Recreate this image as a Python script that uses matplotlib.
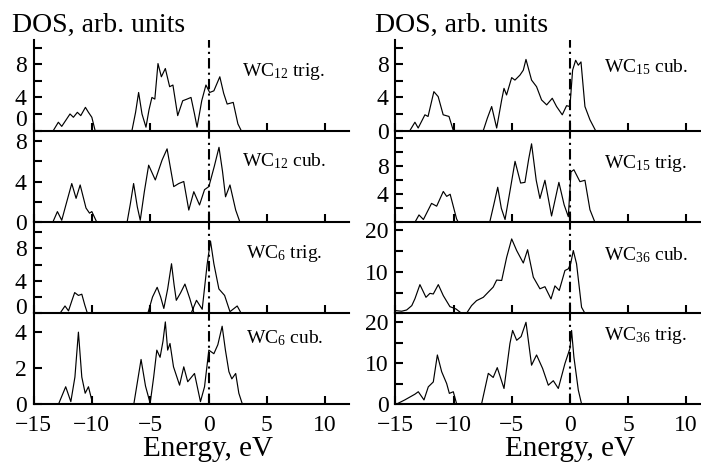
import matplotlib
matplotlib.use('Agg')
import matplotlib.pyplot as plt

plt.rcParams['font.family'] = ['Liberation Serif', 'DejaVu Serif']
plt.rcParams['mathtext.fontset'] = 'custom'
plt.rcParams['mathtext.rm'] = 'Liberation Serif'
plt.rcParams['mathtext.it'] = 'Liberation Serif:italic'
plt.rcParams['mathtext.bf'] = 'Liberation Serif:bold'

# ---------------- data (energy in eV, DOS in arb. units) ----------------
wc12_trig_e = [-13.3, -12.87, -12.58, -12.2, -11.87, -11.58, -11.24, -10.95, -10.55, -10.29, -10.0, -9.72,
               -6.56, -6.25, -5.99, -5.7, -5.36, -5.1, -4.85, -4.6, -4.33, -4.04, -3.7, -3.33, -3.05, -2.64,
               -2.21, -1.84, -1.5, -1.2, -0.98, -0.58, -0.22, 0.1, 0.46, 0.97, 1.3, 1.6, 2.12, 2.52, 2.8]
wc12_trig_dos = [0, 1.0, 0.5, 1.3, 2.0, 1.6, 2.2, 1.8, 2.8, 2.2, 1.6, 0,
                 0, 2.2, 4.6, 2.0, 0.4, 2.5, 4.0, 3.8, 8.1, 6.5, 7.5, 5.3, 5.5, 1.8,
                 3.6, 3.8, 4.0, 2.0, 0.4, 3.6, 5.5, 4.6, 4.8, 6.5, 4.5, 3.2, 3.4, 0.8, 0]

wc12_cub_e = [-13.35, -12.95, -12.58, -12.2, -11.72, -11.35, -11.0, -10.5, -10.2, -10.0, -9.57,
              -6.98, -6.7, -6.42, -6.1, -5.85, -5.5, -5.13, -4.56, -3.98, -3.55, -2.98, -2.55, -2.12,
              -1.69, -1.26, -0.77, -0.34, 0.03, 0.5, 0.9, 1.2, 1.46, 1.84, 2.33, 2.7]
wc12_cub_dos = [0, 1.05, 0.2, 1.8, 3.8, 2.35, 3.66, 1.4, 0.9, 1.05, 0,
                0, 1.8, 3.8, 1.5, 0.2, 3.0, 5.6, 4.15, 6.1, 7.2, 3.5, 3.8, 4.0,
                1.2, 3.0, 1.7, 3.2, 3.5, 5.5, 7.35, 5.0, 2.5, 3.66, 1.2, 0]

wc6_trig_e = [-12.73, -12.3, -12.0, -11.7, -11.47, -11.15, -10.86, -10.6, -10.38,
              -5.2, -4.8, -4.4, -4.1, -3.83, -3.5, -3.17, -2.95, -2.76, -2.4, -2.02, -1.6, -1.24,
              -1.49, -1.03, -0.54, -0.11, 0.17, 0.46, 0.89, 1.38, 1.84, 2.46, 2.8]
wc6_trig_dos = [0, 0.9, 0.3, 1.6, 2.55, 2.2, 2.35, 1.0, 0,
                0, 2.0, 3.2, 2.0, 0.6, 3.0, 6.1, 3.5, 1.6, 2.5, 3.6, 1.8, 0,
                0, 1.6, 0.5, 6.1, 8.9, 6.1, 3.0, 2.2, 0.2, 0.9, 0]

wc6_cub_e = [-12.85, -12.24, -11.8, -11.45, -11.15, -10.86, -10.57, -10.29, -9.92,
             -6.4, -6.1, -5.78, -5.4, -5.0, -4.7, -4.43, -4.15, -3.9, -3.7, -3.5, -3.3, -3.0,
             -2.48, -2.12, -1.78, -1.2, -0.69, -0.34, 0.03, 0.46, 0.8, 1.17, 1.45, 1.75, 2.0,
             2.33, 2.6, 2.9]
wc6_cub_dos = [0, 0.96, 0.13, 1.5, 4.0, 1.5, 0.6, 0.96, 0,
               0, 1.2, 2.48, 1.0, 0.04, 1.5, 3.0, 2.6, 3.5, 4.57, 3.0, 3.37, 2.07,
               1.05, 2.07, 1.24, 1.7, 0.13, 0.96, 3.0, 2.8, 3.3, 4.33, 3.0, 1.8, 1.4,
               1.7, 0.6, 0]

wc15_cub_e = [-13.76, -13.33, -13.05, -12.47, -12.2, -11.7, -11.33, -10.9, -10.4, -10.03,
              -7.45, -7.1, -6.73, -6.3, -5.87, -5.67, -5.45, -5.01, -4.73, -4.3, -4.01, -3.78,
              -3.3, -2.87, -2.44, -2.0, -1.52, -1.15, -0.66, -0.29, 0.0, 0.23, 0.49, 0.72, 0.95,
              1.29, 1.72, 2.2]
wc15_cub_dos = [0, 1.0, 0.3, 1.9, 1.7, 4.7, 4.1, 1.9, 1.7, 0,
                0, 1.5, 2.9, 0.3, 3.7, 5.1, 4.3, 6.4, 6.1, 6.7, 7.3, 8.6,
                6.1, 5.3, 3.7, 3.1, 3.9, 2.9, 1.9, 3.0, 2.9, 7.3, 8.5, 7.9, 8.3,
                2.9, 1.3, 0]

wc15_trig_e = [-13.33, -12.98, -12.6, -11.9, -11.46, -10.89, -10.6, -10.3, -9.75, -9.6,
               -6.9, -6.55, -6.21, -5.9, -5.58, -5.1, -4.72, -4.24, -3.87, -3.55, -3.3, -2.9,
               -2.58, -2.15, -1.58, -0.95, -0.5, -0.14, 0.09, 0.34, 0.86, 1.29, 1.72, 2.15]
wc15_trig_dos = [0, 1.05, 0.4, 2.7, 2.3, 4.4, 3.7, 4.0, 0.5, 0,
                 0, 2.5, 5.0, 2.0, 0.4, 5.0, 8.7, 5.6, 5.7, 9.0, 11.2, 6.0,
                 3.4, 6.0, 0.9, 5.7, 2.5, 0.8, 7.2, 7.5, 5.8, 6.0, 1.8, 0]

wc36_cub_e = [-15.0, -14.47, -14.04, -13.6, -13.33, -12.9, -12.38, -12.04, -11.75, -11.32, -10.89,
              -10.32, -9.8, -9.32, -8.89, -8.46, -8.03, -7.45, -7.02, -6.6, -6.3, -5.87, -5.44,
              -5.01, -4.58, -4.01, -3.64, -3.15, -2.58, -2.15, -1.63, -1.29, -0.92, -0.43, -0.14,
              0.06, 0.29, 0.57, 1.0, 1.29]
wc36_cub_dos = [0.65, 0.5, 0.8, 1.85, 3.5, 6.9, 3.85, 4.8, 4.65, 6.9, 4.25,
                1.6, 1.05, 0, 0, 1.85, 3.05, 3.85, 5.1, 6.3, 8.0, 7.9, 13.5,
                17.9, 15.1, 12.1, 15.3, 8.7, 5.9, 6.4, 3.45, 6.6, 5.5, 10.3, 10.7,
                11.9, 15.1, 11.9, 1.45, 0]

wc36_trig_e = [-14.9, -14.2, -13.33, -13.04, -12.55, -12.18, -11.75, -11.4, -11.03, -10.6, -10.37,
               -10.03, -9.74, -7.6, -7.02, -6.6, -6.25, -5.67, -5.16, -4.93, -4.58, -4.2, -3.78,
               -3.3, -2.87, -2.35, -1.86, -1.43, -1.0, -0.43, 0.0, 0.14, 0.34, 0.72, 1.0]
wc36_trig_dos = [0, 1.0, 2.4, 3.0, 1.0, 4.2, 5.4, 12.0, 7.9, 5.0, 2.6,
                 3.0, 0, 0, 7.5, 6.5, 8.9, 3.8, 14.8, 18.0, 15.6, 16.5, 20.0,
                 9.5, 12.0, 8.7, 4.6, 5.7, 3.8, 9.9, 13.6, 18.0, 11.5, 3.4, 0]

# panel names, tick values and tick labels
left_labels = [r'WC$_{12}$ trig.', r'WC$_{12}$ cub.', r'WC$_{6}$ trig.', r'WC$_{6}$ cub.']
right_labels = [r'WC$_{15}$ cub.', r'WC$_{15}$ trig.', r'WC$_{36}$ cub.', r'WC$_{36}$ trig.']

left_series = [(wc12_trig_e, wc12_trig_dos), (wc12_cub_e, wc12_cub_dos),
               (wc6_trig_e, wc6_trig_dos), (wc6_cub_e, wc6_cub_dos)]
right_series = [(wc15_cub_e, wc15_cub_dos), (wc15_trig_e, wc15_trig_dos),
                (wc36_cub_e, wc36_cub_dos), (wc36_trig_e, wc36_trig_dos)]

left_ytop = [10.95, 9.0, 11.2, 5.05]
right_ytop = [10.95, 13.1, 21.9, 22.2]

left_yticks = [[0, 2, 4, 6, 8, 10], [0, 2, 4, 6, 8], [0, 2, 4, 6, 8, 10], [0, 2, 4]]
left_yticklabels = [['0', '', '4', '', '8', ''], ['0', '', '4', '', '8'],
                    ['', '', '4', '', '8', ''], ['0', '2', '4']]
right_yticks = [[0, 2, 4, 6, 8, 10], [0, 2, 4, 6, 8, 10, 12], [0, 5, 10, 15, 20], [0, 5, 10, 15, 20]]
right_yticklabels = [['0', '', '4', '', '8', ''], ['', '', '4', '', '8', '', ''],
                     ['', '', '10', '', '20'], ['0', '', '10', '', '20']]

xticks = [-15, -10, -5, 0, 5, 10]
xticklabels = ['\u221215', '\u221210', '\u22125', '0', '5', '10']

# ---------------- layout ----------------
W, H = 701, 462
fig = plt.figure(figsize=(W / 100, H / 100), dpi=100)

rows_px = [40, 130.5, 222.3, 313.3, 404]
cols_px = [(33.5, 348.5), (395.5, 701)]
xlims = [(-15, 12.0), (-15, 11.27)]

label_pos = [[(242, 72), (242, 161), (246, 254), (246, 338)],
             [(604, 67), (604, 164), (604, 255), (604, 336)]]

columns = [(left_series, left_labels, left_ytop, left_yticks, left_yticklabels),
           (right_series, right_labels, right_ytop, right_yticks, right_yticklabels)]

for c, (series, labels, ytops, yticks, ytls) in enumerate(columns):
    x0, x1 = cols_px[c]
    for r in range(4):
        top, bot = rows_px[r], rows_px[r + 1]
        ax = fig.add_axes([x0 / W, 1 - bot / H, (x1 - x0) / W, (bot - top) / H])
        e, d = series[r]
        ax.plot(e, d, color='black', lw=0.85)
        ax.axvline(0, color='black', lw=1.5, linestyle=(0, (5, 2, 1, 2)))
        ax.set_xlim(*xlims[c])
        ax.set_ylim(0, ytops[r])
        ax.patch.set_visible(False)
        for s in ['top', 'right']:
            ax.spines[s].set_visible(False)
        for s in ['left', 'bottom']:
            ax.spines[s].set_linewidth(1.5)
        ax.set_xticks(xticks)
        if r == 3:
            ax.set_xticklabels(xticklabels)
        else:
            ax.set_xticklabels([])
        ax.set_yticks(yticks[r])
        ax.set_yticklabels(ytls[r])
        ax.tick_params(axis='both', direction='in', length=6, width=1.5, labelsize=17,
                       top=False, right=False)
        ax.tick_params(axis='y', pad=5)
        ax.tick_params(axis='x', pad=8)
        if c == 0 and r == 0:
            ax.get_yticklabels()[0].set_va('bottom')
        if c == 0 and r == 2:
            # the "0" of this panel sits slightly above its baseline
            ax.annotate('0', xy=(0, 0), xycoords=('axes fraction', 'data'),
                        xytext=(-5, 3.5), textcoords='offset points',
                        ha='right', va='center', fontsize=17)
        fig.text(label_pos[c][r][0] / W, 1 - label_pos[c][r][1] / H, labels[r],
                 fontsize=14, ha='left', va='center')

fig.text(12 / W, 1 - 25 / H, 'DOS, arb. units', fontsize=20, ha='left', va='center')
fig.text(375 / W, 1 - 25 / H, 'DOS, arb. units', fontsize=20, ha='left', va='center')
fig.text(208 / W, 1 - 456 / H, 'Energy, eV', fontsize=21, ha='center', va='baseline')
fig.text(570 / W, 1 - 456 / H, 'Energy, eV', fontsize=21, ha='center', va='baseline')

fig.savefig('out.png', dpi=100)
